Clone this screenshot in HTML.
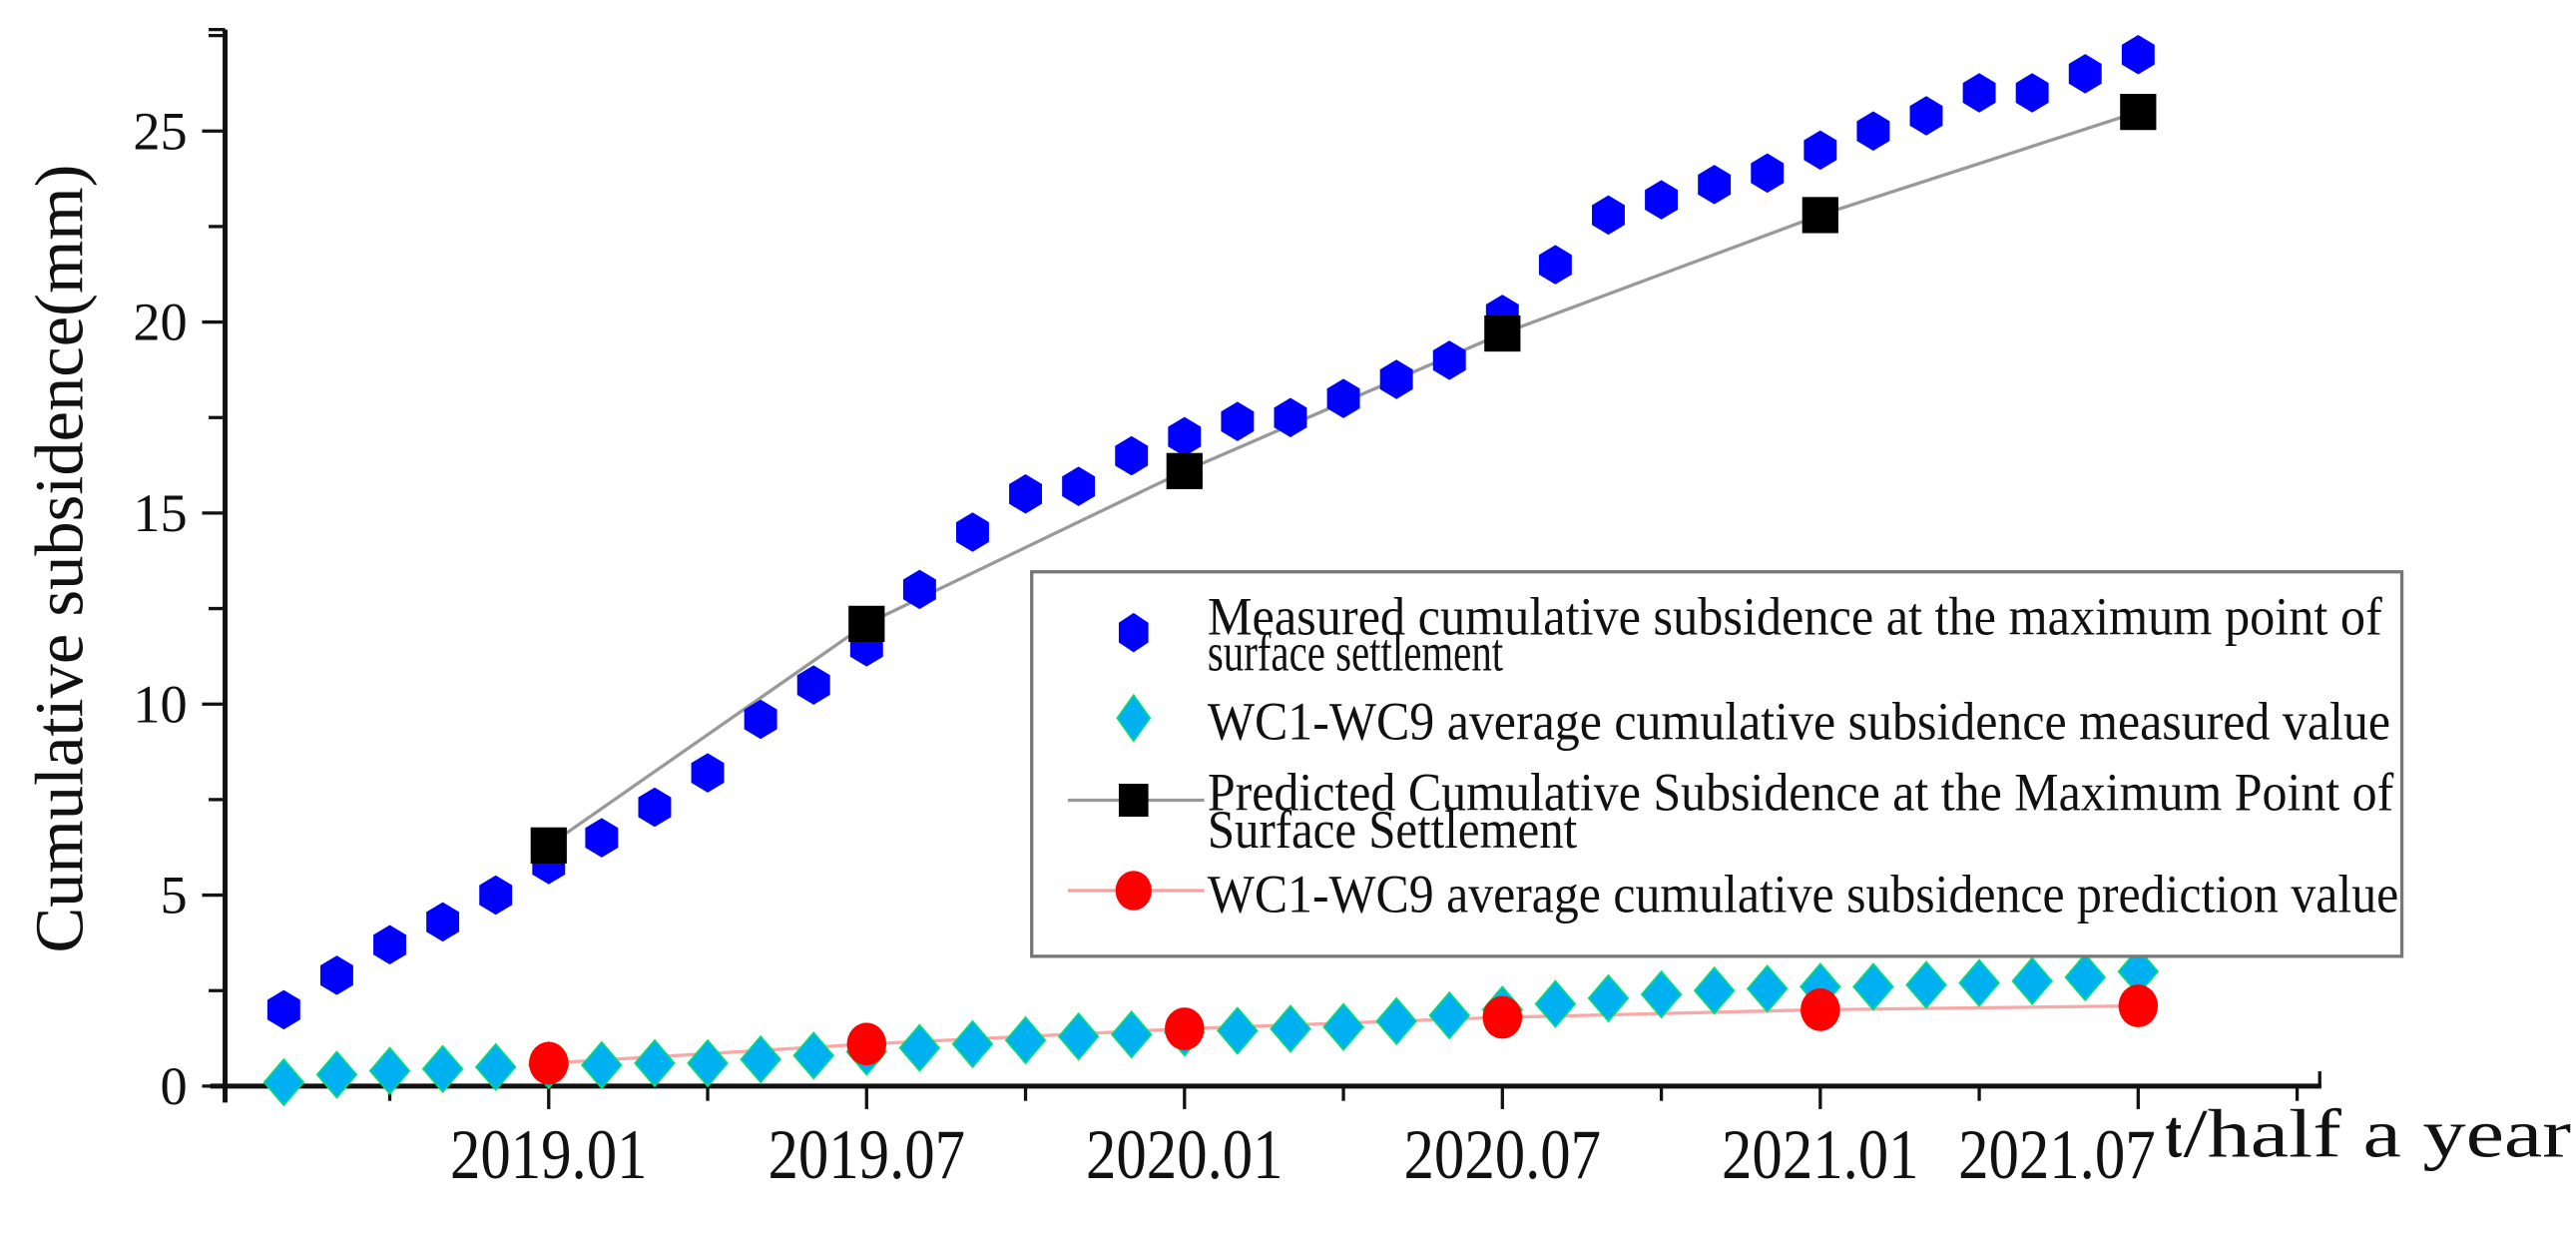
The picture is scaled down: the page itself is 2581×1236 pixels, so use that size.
<!DOCTYPE html>
<html><head><meta charset="utf-8"><style>
html,body{margin:0;padding:0;background:#fff;}
svg{display:block;}
text{font-family:"Liberation Serif",serif;fill:#111;}
</style></head><body>
<svg id="chart" width="2581" height="1236" viewBox="0 0 1568 751" preserveAspectRatio="none" xmlns="http://www.w3.org/2000/svg">
<g id="axes"></g>
<g id="marks"></g>
<text transform="translate(50,340) rotate(-90)" text-anchor="middle" font-size="42" textLength="480" lengthAdjust="spacingAndGlyphs">Cumulative subsidence(mm)</text>
<g>
<text x="1318" y="704" font-size="42" font-weight="bold" textLength="10" lengthAdjust="spacingAndGlyphs">t</text>
<text x="1329" y="704" font-size="42" textLength="236" lengthAdjust="spacingAndGlyphs">/half a year</text>
</g>
<g>
  <rect x="628" y="348" width="834" height="234" fill="#fff" stroke="#777" stroke-width="2"/>
  <g>
    <polygon points="690,373 699,379 699,391 690,397 681,391 681,379" fill="#0000ff"/>
    <text x="735" y="386" font-size="33" textLength="715" lengthAdjust="spacingAndGlyphs">Measured cumulative subsidence at the maximum point of</text>
    <text x="735" y="408" font-size="33" textLength="180" lengthAdjust="spacingAndGlyphs">surface settlement</text>
  </g>
  <g>
    <polygon points="690,423 700,437 690,451 680,437" fill="#00b0f0" stroke="#00e070" stroke-width="1"/>
    <text x="735" y="450" font-size="33" textLength="720" lengthAdjust="spacingAndGlyphs">WC1-WC9 average cumulative subsidence measured value</text>
  </g>
  <g>
    <line x1="650" y1="487" x2="733" y2="487" stroke="#999" stroke-width="2"/>
    <rect x="681" y="477" width="18" height="20" fill="#000"/>
    <text x="735" y="493" font-size="33" textLength="722" lengthAdjust="spacingAndGlyphs">Predicted Cumulative Subsidence at the Maximum Point of</text>
    <text x="735" y="516" font-size="33" textLength="225" lengthAdjust="spacingAndGlyphs">Surface Settlement</text>
  </g>
  <g>
    <line x1="650" y1="542" x2="733" y2="542" stroke="#f8a0a0" stroke-width="2"/>
    <ellipse cx="690" cy="542" rx="11" ry="12" fill="#ff0000"/>
    <text x="735" y="555" font-size="33" textLength="725" lengthAdjust="spacingAndGlyphs">WC1-WC9 average cumulative subsidence prediction value</text>
  </g>
</g>
</svg>
<script>
// data
const monthIndex = [-5,-4,-3,-2,-1,0,1,2,3,4,5,6,7,8,9,10,11,12,13,14,15,16,17,18,19,20,21,22,23,24,25,26,27,28,29,30];
const measuredMax = [2.0,2.9,3.7,4.3,5.0,5.8,6.5,7.3,8.2,9.6,10.5,11.5,13.0,14.5,15.5,15.7,16.5,17.0,17.4,17.5,18.0,18.5,19.0,20.2,21.5,22.8,23.2,23.6,23.9,24.5,25.0,25.4,26.0,26.0,26.5,27.0];
const wcMeasured = [0.1,0.3,0.4,0.45,0.5,0.55,0.55,0.6,0.6,0.7,0.8,0.9,1.0,1.1,1.2,1.3,1.35,1.4,1.45,1.5,1.55,1.7,1.85,2.0,2.15,2.3,2.4,2.5,2.55,2.6,2.6,2.65,2.7,2.75,2.85,3.0];
const predIndex = [0,6,12,18,24,30];
const predictedMax = [6.3,12.1,16.1,19.7,22.8,25.5];
const wcPredicted = [0.6,1.1,1.5,1.8,2.0,2.1];
const xTickLabels = ["2019.01","2019.07","2020.01","2020.07","2021.01","2021.07"];
const yTickValues = [0,5,10,15,20,25];

const NS = "http://www.w3.org/2000/svg";
const X0 = 137, Y0 = 661;
function xs(m){ return 334 + m * 32.25; }
function ys(v){ return Y0 - v * 23.25; }
function mk(tag, attrs, parent){ const e=document.createElementNS(NS,tag); for(const k in attrs) e.setAttribute(k,attrs[k]); parent.appendChild(e); return e; }
const axes = document.getElementById('axes');
const marks = document.getElementById('marks');

let a = mk('line',{x1:X0,y1:18,x2:X0,y2:671,stroke:'#111','stroke-width':3},axes);


a = mk('line',{x1:128,y1:Y0,x2:1413,y2:Y0,stroke:'#111','stroke-width':3},axes);


mk('line',{x1:127,y1:18,x2:X0,y2:18,stroke:'#111','stroke-width':2},axes);
mk('line',{x1:1412,y1:652,x2:1412,y2:661,stroke:'#111','stroke-width':2},axes);

for (let v=0; v<=27.5; v+=2.5){
  const major = (v % 5 === 0);
  mk('line',{x1: major?123:127, y1: ys(v), x2: X0, y2: ys(v), stroke:'#111','stroke-width':2},axes);
}
yTickValues.forEach(v=>{
  const t = mk('text',{x:114,y:ys(v)+11,'text-anchor':'end','font-size':33},axes);
  t.textContent = v;
  
  
});
for (let m=-3; m<=33; m+=3){
  const major = (m % 6 === 0) && m>=0 && m<=30;
  mk('line',{x1:xs(m),y1:Y0,x2:xs(m),y2:Y0+(major?14:9),stroke:'#111','stroke-width':2},axes);
}
xTickLabels.forEach((s,i)=>{
  const cx = Math.min(xs(i*6), 1312 - 60);
  const t = mk('text',{x:cx,y:717,'text-anchor':'middle','font-size':43,textLength:120,lengthAdjust:'spacingAndGlyphs'},axes);
  t.textContent = s;
  
  
});

let pl = mk('polyline',{points: predIndex.map((m,i)=>xs(m)+','+ys(predictedMax[i])).join(' '),fill:'none',stroke:'#999','stroke-width':2},marks);


pl = mk('polyline',{points: predIndex.map((m,i)=>xs(m)+','+ys(wcPredicted[i])).join(' '),fill:'none',stroke:'#f8a8a8','stroke-width':2},marks);



monthIndex.forEach((m,i)=>{
  const cx=xs(m), cy=ys(measuredMax[i]);
  const p = mk('polygon',{points:`${cx},${cy-12} ${cx+10},${cy-6} ${cx+10},${cy+6} ${cx},${cy+12} ${cx-10},${cy+6} ${cx-10},${cy-6}`,fill:'#0000ff'},marks);
  
  
});
monthIndex.forEach((m,i)=>{
  const cx=xs(m), cy=ys(wcMeasured[i]);
  const p = mk('polygon',{points:`${cx},${cy-14} ${cx+12},${cy} ${cx},${cy+14} ${cx-12},${cy}`,fill:'#00b0f0',stroke:'#00e070','stroke-width':1},marks);
  
  
});
predIndex.forEach((m,i)=>{
  const r = mk('rect',{x:xs(m)-11,y:ys(predictedMax[i])-11,width:22,height:22,fill:'#000'},marks);
  
  
});
predIndex.forEach((m,i)=>{
  const c = mk('ellipse',{cx:xs(m),cy:ys(wcPredicted[i]),rx:12,ry:13,fill:'#ff0000'},marks);
  
  
});
</script>
</body></html>
